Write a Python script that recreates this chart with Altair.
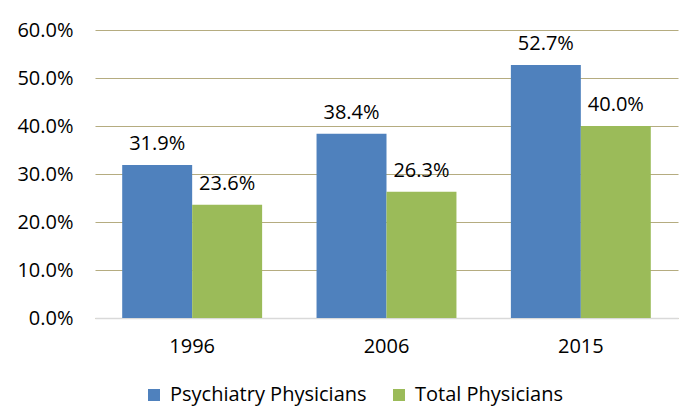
import altair as alt
import pandas as pd

years = ["1996", "2006", "2015"]
series = ["Psychiatry Physicians", "Total Physicians"]
psychiatry = [31.9, 38.4, 52.7]
total = [23.6, 26.3, 40.0]

rows = []
for i, y in enumerate(years):
    rows.append({"year": y, "series": series[0], "value": psychiatry[i] / 100})
    rows.append({"year": y, "series": series[1], "value": total[i] / 100})
df = pd.DataFrame(rows)

FONT = "Open Sans"
FS = 20

x = alt.X("year:N", sort=years, title=None,
          scale=alt.Scale(paddingInner=0.28, paddingOuter=0.14),
          axis=alt.Axis(labelAngle=0, labelFontSize=FS, labelFont=FONT, labelColor="#000",
                        labelPadding=18, ticks=False, domainColor="#d9d9d9", domainWidth=1.5))
y = alt.Y("value:Q", title=None,
          scale=alt.Scale(domain=[0, 0.6], nice=False),
          axis=alt.Axis(format=".1%", values=[0, 0.1, 0.2, 0.3, 0.4, 0.5, 0.6],
                        labelFontSize=FS, labelFont=FONT, labelColor="#000",
                        labelPadding=22, ticks=False, domain=False,
                        gridColor="#b5ac80", gridWidth=1.2))
color = alt.Color("series:N", sort=series, title=None,
                  scale=alt.Scale(domain=series, range=["#4f81bd", "#9bbb59"]),
                  legend=alt.Legend(orient="none", direction="horizontal",
                                    legendX=49, legendY=355,
                                    symbolType="square", symbolSize=144,
                                    symbolStrokeWidth=0, labelFontSize=FS, labelFont=FONT,
                                    labelColor="#000", labelOffset=6, columnPadding=22,
                                    labelLimit=0))

base = alt.Chart(df).encode(
    x=x,
    xOffset=alt.XOffset("series:N", sort=series, scale=alt.Scale(paddingInner=0, paddingOuter=0)),
    y=y,
)

bars = base.mark_bar().encode(color=color)
labels = base.mark_text(baseline="alphabetic", dy=-15, fontSize=FS, font=FONT, color="#000").encode(
    text=alt.Text("value:Q", format=".1%")
)

chart = (bars + labels).properties(
    width=583, height=288,
    autosize=alt.AutoSizeParams(type="none"),
    padding={"left": 87, "top": 22, "right": 3, "bottom": 90},
).configure_view(stroke=None)

chart.save("out.html", embed_options={"renderer": "svg", "actions": False})
